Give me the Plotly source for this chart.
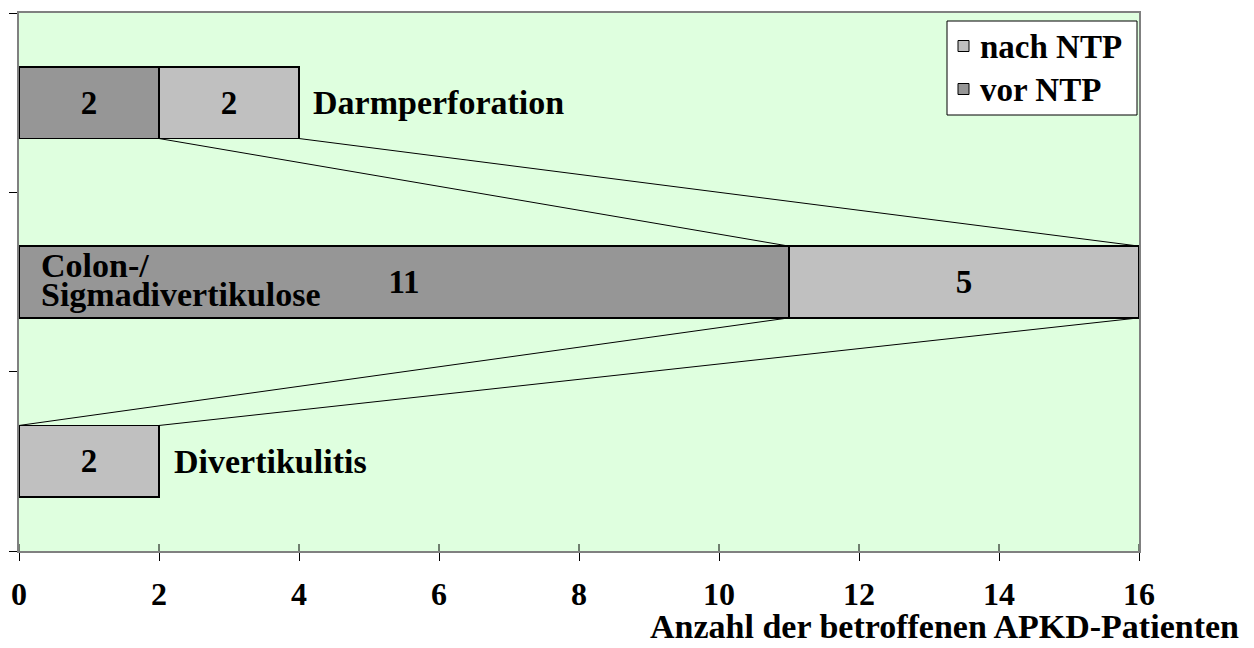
import plotly.graph_objects as go
import numpy as np

# Komplikationen (von oben nach unten)
kategorien = ["Darmperforation", "Colon-/Sigmadivertikulose", "Divertikulitis"]
vor_ntp = [2, 11, 0]
nach_ntp = [2, 5, 2]
x_ticks = [0, 2, 4, 6, 8, 10, 12, 14, 16]

FONT = "Liberation Serif"
BAR_W = 0.4
C_VOR = "#969696"
C_NACH = "#c0c0c0"
ypos = list(range(len(kategorien) - 1, -1, -1))  # top category -> highest y

fig = go.Figure()

val_font = dict(family=FONT, size=33, color="black", weight="bold")

# Stacked horizontal bars
fig.add_trace(go.Bar(
    name="vor NTP", y=ypos, x=vor_ntp, orientation="h", width=BAR_W,
    marker=dict(color=C_VOR, line=dict(color="black", width=1.5)),
    text=[str(v) if v else "" for v in vor_ntp], textposition="inside",
    insidetextanchor="middle", textangle=0, textfont=val_font,
    hoverinfo="skip", showlegend=False,
))
fig.add_trace(go.Bar(
    name="nach NTP", y=ypos, x=nach_ntp, orientation="h", width=BAR_W,
    marker=dict(color=C_NACH, line=dict(color="black", width=1.5)),
    text=[str(v) if v else "" for v in nach_ntp], textposition="inside",
    insidetextanchor="middle", textangle=0, textfont=val_font,
    hoverinfo="skip", showlegend=False,
))

# Series lines joining segment ends of neighbouring bars
cum_vor = np.array(vor_ntp, dtype=float)
cum_nach = cum_vor + np.array(nach_ntp, dtype=float)
for ends in (cum_vor, cum_nach):
    for i in range(len(kategorien) - 1):
        fig.add_trace(go.Scatter(
            x=[ends[i], ends[i + 1]],
            y=[ypos[i] - BAR_W / 2, ypos[i + 1] + BAR_W / 2],
            mode="lines", line=dict(color="black", width=1),
            showlegend=False, hoverinfo="skip",
        ))

lab_font = dict(family=FONT, size=34, color="black", weight="bold")
# Category labels
fig.add_annotation(x=cum_nach[0], y=ypos[0], text="Darmperforation",
                   xanchor="left", xshift=12, showarrow=False, font=lab_font)
fig.add_annotation(x=cum_nach[2], y=ypos[2], text="Divertikulitis",
                   xanchor="left", xshift=13, showarrow=False, font=lab_font)
fig.add_annotation(x=0, y=ypos[1], text="Colon-/",
                   xanchor="left", xshift=20, yshift=17, showarrow=False, font=lab_font)
fig.add_annotation(x=0, y=ypos[1], text="Sigmadivertikulose",
                   xanchor="left", xshift=20, yshift=-12, showarrow=False, font=lab_font)

# Axis title
fig.add_annotation(xref="paper", yref="paper", x=1.091, y=-0.141,
                   xanchor="right", yanchor="middle",
                   text="Anzahl der betroffenen APKD-Patienten", showarrow=False,
                   font=dict(family=FONT, size=34, color="black", weight="bold"))

# Legend box (drawn with shapes so its layout is fixed in pixels)
PW, PH, L, B = 1120, 538, 19, 97
def px_x(p):
    return (p - L) / PW
def px_y(p):
    return (648 - B - p) / PH

fig.add_shape(type="rect", xref="paper", yref="paper",
              x0=px_x(947), x1=px_x(1137), y0=px_y(115), y1=px_y(21),
              fillcolor="white", line=dict(color="black", width=1), layer="above")
legend_items = [("nach NTP", C_NACH, 46), ("vor NTP", C_VOR, 89)]
for name, col, yc in legend_items:
    fig.add_shape(type="rect", xref="paper", yref="paper",
                  x0=px_x(958), x1=px_x(969), y0=px_y(yc + 5.5), y1=px_y(yc - 5.5),
                  fillcolor=col, line=dict(color="black", width=1), layer="above")
    fig.add_annotation(xref="paper", yref="paper", x=px_x(978), y=px_y(yc + 1),
                       xanchor="left", yanchor="middle", text=name, showarrow=False,
                       font=dict(family=FONT, size=33, color="black", weight="bold"))

# Inner half of the x tick marks (ticks cross the axis line)
for t in x_ticks:
    fig.add_shape(type="line", xref="x", yref="paper", x0=t, x1=t,
                  ysizemode="pixel", yanchor=0, y0=0, y1=7,
                  line=dict(color="black", width=1), layer="above")

fig.update_layout(
    width=1254, height=648,
    margin=dict(l=19, r=115, t=13, b=97),
    barmode="stack", bargap=0.6,
    paper_bgcolor="white", plot_bgcolor="#dfffdf",
    showlegend=False,
    xaxis=dict(
        range=[0, 16], tickvals=x_ticks, ticktext=[str(t) for t in x_ticks],
        ticks="outside", ticklen=8, tickcolor="black", tickwidth=1,
        showline=True, linecolor="#808080", linewidth=2, mirror=True,
        showgrid=False, zeroline=False, ticklabelstandoff=6,
        tickfont=dict(family=FONT, size=32, color="black", weight="bold"),
    ),
    yaxis=dict(
        range=[-0.5, 2.5], tickvals=[-0.5, 0.5, 1.5, 2.5],
        showticklabels=False, ticks="outside", ticklen=8,
        tickcolor="black", tickwidth=1,
        showline=True, linecolor="#808080", linewidth=2, mirror=True,
        showgrid=False, zeroline=False,
    ),
)

fig.write_html("out.html")
